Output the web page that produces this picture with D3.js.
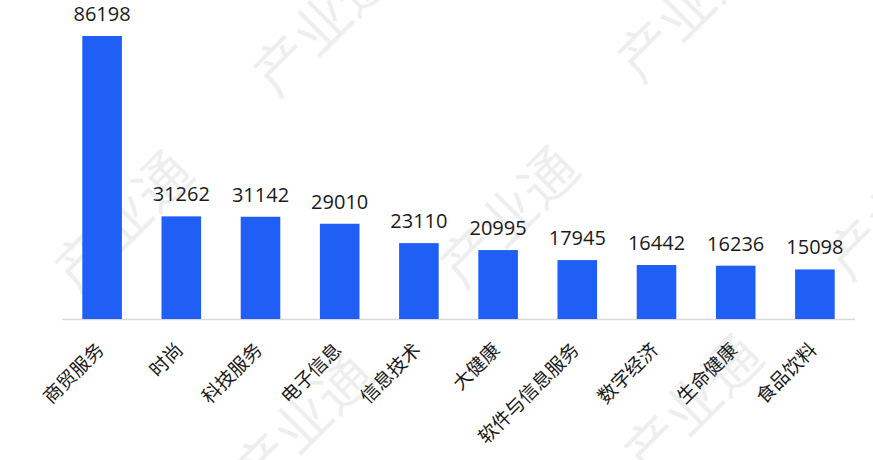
<!DOCTYPE html>
<html><head><meta charset="utf-8">
<script src="https://cdn.jsdelivr.net/npm/d3@7"></script>
<style>html,body{margin:0;padding:0;background:#fff;}svg{display:block;}</style>
</head><body>
<svg id="chart" width="873" height="460"></svg>
<script>
const categories = ["商贸服务","时尚","科技服务","电子信息","信息技术","大健康","软件与信息服务","数字经济","生命健康","食品饮料"];
const values = [86198,31262,31142,29010,23110,20995,17945,16442,16236,15098];
const watermarkText = "产业通";
const watermarkSpots = [[319,22],[683,8],[120,218],[506,214],[892,206],[300,420],[690,402]];

const W = 873, H = 460;
const svg = d3.select("#chart");
const font = "'Noto Sans CJK SC','Open Sans',sans-serif";

// watermarks
svg.append("g").selectAll("text").data(watermarkSpots).join("text")
  .attr("transform", d => `translate(${d[0]},${d[1]}) rotate(-45)`)
  .attr("text-anchor","middle").attr("dominant-baseline","central")
  .attr("font-family", font).attr("font-size", 56).attr("font-weight", 400)
  .attr("fill", "#000").attr("fill-opacity", 0.065)
  .text(watermarkText);

const x = d3.scaleBand().domain(categories).range([62.5, 854.5]).paddingInner(0.5).paddingOuter(0.25);
const y = d3.scaleLinear().domain([0, 86198]).range([319, 36]);

// baseline
svg.append("line").attr("x1", 62).attr("x2", 855).attr("y1", 319.5).attr("y2", 319.5)
  .attr("stroke", "#d9d9d9").attr("stroke-width", 1.5);

svg.append("g").selectAll("rect").data(values).join("rect")
  .attr("x", (d,i) => x(categories[i]))
  .attr("width", x.bandwidth())
  .attr("y", d => y(d))
  .attr("height", d => y(0) - y(d))
  .attr("fill", "#1f5ff5");

svg.append("g").selectAll("text").data(values).join("text")
  .attr("x", (d,i) => x(categories[i]) + x.bandwidth()/2)
  .attr("y", d => y(d) - 15)
  .attr("text-anchor", "middle")
  .attr("font-family", "'Open Sans','Noto Sans',sans-serif").attr("font-size", 20)
  .attr("fill", "#1a1a1a")
  .text(d => d);

svg.append("g").selectAll("text").data(categories).join("text")
  .attr("transform", d => `translate(${x(d) + x.bandwidth()/2 + 3},${351}) rotate(-45)`)
  .attr("text-anchor", "end")
  .attr("font-family", font).attr("font-size", 19)
  .attr("fill", "#1a1a1a")
  .text(d => d);
</script>
</body></html>
